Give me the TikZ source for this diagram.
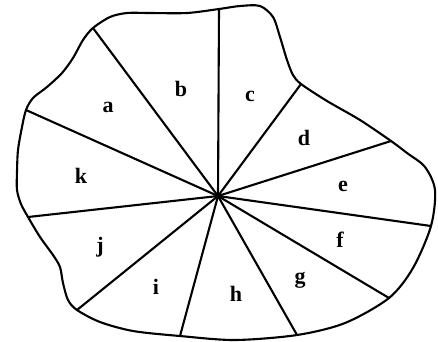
\documentclass[tikz,border=0pt]{standalone}
\usepackage{fontspec}
\setmainfont{Liberation Serif}
\usepackage{tikz}

\tikzset{lbl/.style={font=\fontsize{22}{23}\selectfont\bfseries}}

\begin{document}
\begin{tikzpicture}[x=1pt,y=-1pt,line width=2.1pt]
\useasboundingbox (0,0) rectangle (438,341);
\coordinate (O) at (218,196);
% where the spokes meet the rim
\coordinate (bc) at (219,9);
\coordinate (ab) at (93,28);
\coordinate (ak) at (26,110);
\coordinate (kj) at (28,217);
\coordinate (ji) at (77,310);
\coordinate (ih) at (180,336);
\coordinate (hg) at (297,335);
\coordinate (gf) at (389,298);
\coordinate (fe) at (431,226);
\coordinate (ed) at (391,141);
\coordinate (dc) at (301,84);
\draw plot[smooth cycle,tension=0.5] coordinates {
(bc) (187,13) (150,13) (127,13) (110,17) (ab) (83,40) (73,58) (62,73)
(47,87) (33,98) (ak) (22,127) (18,150) (17,172) (17,190) (21,204)
(kj) (40,237) (53,255) (60,267) (63,283) (68,300) (ji) (100,322)
(133,331) (ih) (235,340) (hg) (345,323) (gf) (413,268) (fe) (435,190)
(425,167) (407,153) (ed) (360,120) (327,101) (dc) (293,75) (287,60)
(280,37) (273,17) (260,6) (240,6)};
\foreach \p in {bc,ab,ak,kj,ji,ih,hg,gf,fe,ed,dc}
\draw (O) -- (\p);
\node[lbl] (a) at (108,107) {a};
\node[lbl] (b) at (181,89) {b};
\node[lbl] (c) at (250,96) {c};
\node[lbl] (d) at (304,138) {d};
\node[lbl] (e) at (343,186) {e};
\node[lbl] (f) at (340,240) {f};
\node[lbl] (g) at (300,280) {g};
\node[lbl] (h) at (236,294) {h};
\node[lbl] (i) at (156,287) {i};
\node[lbl] (j) at (100,247) {j};
\node[lbl] (k) at (81,176) {k};
\end{tikzpicture}
\end{document}
